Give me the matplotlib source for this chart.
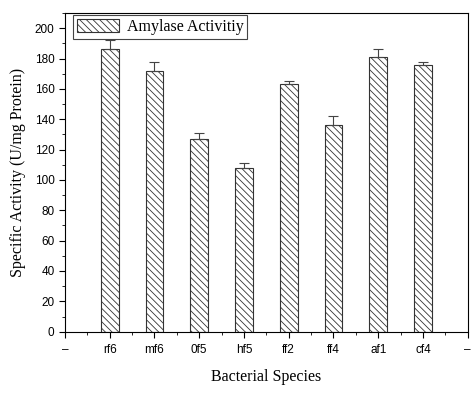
import matplotlib.pyplot as plt
from matplotlib.ticker import MultipleLocator

species = ["rf6", "mf6", "0f5", "hf5", "ff2", "ff4", "af1", "cf4"]
activity = [186, 172, 127, 108, 163, 136, 181, 176]
errors = [6, 5.5, 4, 3, 2, 6, 5.5, 1.7]

plt.rcParams['hatch.linewidth'] = 0.6

fig = plt.figure(figsize=(4.73, 3.95), dpi=100)
ax = fig.add_axes([0.1374, 0.1603, 0.8514, 0.8067])

x = list(range(1, len(species) + 1))
ax.bar(x, activity, width=0.4, color="white", edgecolor="#333333", linewidth=0.8,
       hatch="\\\\\\\\\\", label="Amylase Activitiy",
       yerr=[[0] * len(errors), errors], error_kw=dict(ecolor="#444444", elinewidth=0.8, capsize=3.5, capthick=0.8))

ax.set_xlim(0, 9)
ax.set_ylim(0, 210)
ax.set_xticks(range(0, 10))
ax.set_xticklabels(["–"] + species + ["–"], fontfamily="Liberation Sans", fontsize=8.5)
ax.xaxis.set_minor_locator(MultipleLocator(0.5))
ax.yaxis.set_major_locator(MultipleLocator(20))
ax.yaxis.set_minor_locator(MultipleLocator(10))
for lbl in ax.get_yticklabels():
    lbl.set_fontfamily("Liberation Sans")
    lbl.set_fontsize(8.5)
ax.tick_params(which="both", direction="out")
ax.tick_params(which="major", length=4)
ax.tick_params(which="minor", length=2.5)
ax.tick_params(axis="x", pad=5)

ax.set_xlabel("Bacterial Species", fontfamily="Liberation Serif", fontsize=11.5, labelpad=9)
ax.set_ylabel("Specific Activity (U/mg Protein)", fontfamily="Liberation Serif", fontsize=11.5, labelpad=6)

leg = ax.legend(loc="upper left", bbox_to_anchor=(0.02, 0.994), borderaxespad=0,
                prop={"family": "Liberation Serif", "size": 11.5},
                fancybox=False, edgecolor="#444444", framealpha=1, handlelength=2.6,
                handleheight=0.9, borderpad=0.25, handletextpad=0.5)
leg.get_frame().set_linewidth(0.8)

plt.savefig("out.png", dpi=100)
